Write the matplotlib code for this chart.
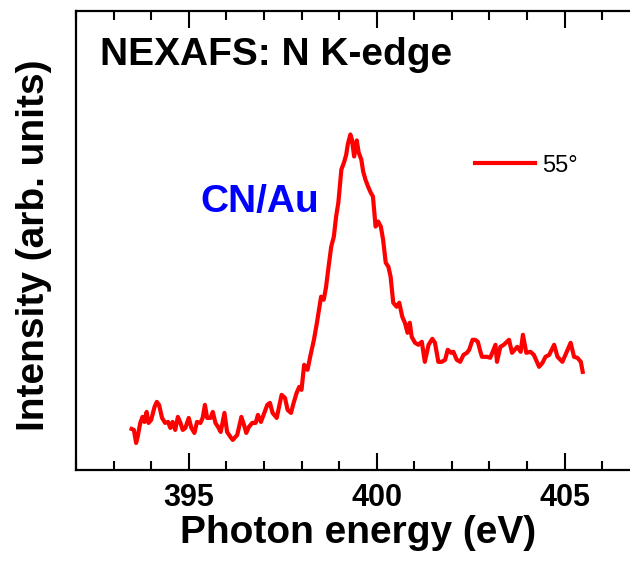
import numpy as np
import matplotlib
matplotlib.use("Agg")
import matplotlib.pyplot as plt
from matplotlib.ticker import MultipleLocator

plt.rcParams['font.family'] = ['Liberation Sans', 'DejaVu Sans']

# N K-edge NEXAFS spectrum, CN/Au, 55 deg incidence
energy = [
    393.48, 393.54, 393.60, 393.64, 393.71, 393.77, 393.82, 393.88, 393.93, 394.00,
    394.09, 394.15, 394.21, 394.29, 394.37, 394.45, 394.51, 394.57, 394.64, 394.71,
    394.78, 394.84, 394.91, 395.00, 395.07, 395.15, 395.22, 395.31, 395.37, 395.43,
    395.49, 395.58, 395.64, 395.71, 395.78, 395.85, 395.95, 396.02, 396.11, 396.17,
    396.29, 396.40, 396.47, 396.53, 396.60, 396.69, 396.78, 396.84, 396.92, 397.09,
    397.16, 397.23, 397.34, 397.47, 397.56, 397.63, 397.72, 397.79, 397.87, 397.94,
    398.00, 398.07, 398.16, 398.23, 398.33, 398.41, 398.52, 398.59, 398.65, 398.72,
    398.79, 398.86, 398.92, 398.98, 399.06, 399.13, 399.19, 399.23, 399.30, 399.34,
    399.40, 399.47, 399.52, 399.59, 399.64, 399.70, 399.77, 399.84, 399.90, 399.97,
    400.04, 400.11, 400.17, 400.24, 400.31, 400.37, 400.44, 400.53, 400.60, 400.68,
    400.75, 400.82, 400.88, 400.93, 401.02, 401.11, 401.20, 401.28, 401.38, 401.48,
    401.55, 401.64, 401.73, 401.82, 401.89, 401.98, 402.04, 402.13, 402.22, 402.31,
    402.40, 402.46, 402.55, 402.62, 402.69, 402.76, 402.80, 402.94, 403.02, 403.16,
    403.20, 403.29, 403.38, 403.52, 403.60, 403.74, 403.83, 403.89, 403.98, 404.09,
    404.18, 404.32, 404.41, 404.49, 404.59, 404.72, 404.81, 404.94, 405.08, 405.16,
    405.25, 405.34, 405.43, 405.48,
]
intensity = [
    0.39, 0.38, 0.25, 0.31, 0.45, 0.51, 0.46, 0.56, 0.45, 0.48,
    0.61, 0.66, 0.63, 0.50, 0.45, 0.46, 0.40, 0.46, 0.38, 0.51,
    0.45, 0.38, 0.40, 0.50, 0.40, 0.35, 0.46, 0.45, 0.50, 0.63,
    0.50, 0.50, 0.56, 0.45, 0.41, 0.36, 0.55, 0.36, 0.31, 0.28,
    0.33, 0.51, 0.43, 0.35, 0.41, 0.45, 0.45, 0.53, 0.46, 0.63,
    0.65, 0.55, 0.50, 0.73, 0.70, 0.58, 0.55, 0.65, 0.75, 0.81,
    0.78, 1.03, 0.98, 1.11, 1.28, 1.45, 1.71, 1.68, 1.80, 2.01,
    2.21, 2.31, 2.51, 2.65, 2.98, 3.05, 3.13, 3.23, 3.33, 3.28,
    3.11, 3.27, 3.15, 3.08, 2.96, 2.88, 2.81, 2.75, 2.71, 2.41,
    2.46, 2.41, 2.28, 2.05, 2.01, 1.91, 1.65, 1.61, 1.65, 1.51,
    1.45, 1.35, 1.45, 1.31, 1.25, 1.23, 1.26, 1.06, 1.23, 1.29,
    1.25, 1.06, 1.06, 1.08, 1.18, 1.15, 1.16, 1.08, 1.06, 1.13,
    1.15, 1.18, 1.28, 1.28, 1.26, 1.16, 1.11, 1.11, 1.10, 1.23,
    1.06, 1.21, 1.23, 1.28, 1.15, 1.21, 1.16, 1.33, 1.15, 1.16,
    1.13, 1.01, 1.05, 1.11, 1.13, 1.23, 1.11, 1.06, 1.18, 1.25,
    1.11, 1.10, 1.06, 0.96,
]

fig = plt.figure(figsize=(6.3, 5.62), dpi=100)
# axes run a little past the right edge, as in the cropped original
ax = fig.add_axes([0.1206, 0.1637, 0.895, 0.8163])

ax.plot(energy, intensity, color='red', lw=3.0, label='55°')

ax.set_xlim(392, 407)
ax.set_ylim(-0.02, 4.56)

ax.xaxis.set_major_locator(MultipleLocator(5))
ax.xaxis.set_minor_locator(MultipleLocator(1))
ax.set_yticks([])
ax.tick_params(axis='x', which='both', direction='in', top=True, width=1.5,
               labelsize=22, pad=9)
ax.tick_params(axis='x', which='major', length=12.5)
ax.tick_params(axis='x', which='minor', length=6.5)
for lab in ax.get_xticklabels():
    lab.set_fontweight('bold')
for sp in ax.spines.values():
    sp.set_linewidth(1.6)

ax.set_xlabel('Photon energy (eV)', fontsize=28, fontweight='bold', labelpad=2)
ax.set_ylabel('Intensity (arb. units)', fontsize=28, fontweight='bold')
ax.yaxis.set_label_coords(-0.043, 0.49)

fig.text(0.159, 0.902, 'NEXAFS: N K-edge', fontsize=28, fontweight='bold',
         va='center', ha='left')
fig.text(0.318, 0.641, 'CN/Au', fontsize=28, fontweight='bold', color='blue',
         va='center', ha='left')

ax.legend(loc='upper left', bbox_to_anchor=(0.67, 0.734), frameon=False,
          fontsize=17, handlelength=2.55, handletextpad=0.3)

fig.savefig('out.png', dpi=100)
